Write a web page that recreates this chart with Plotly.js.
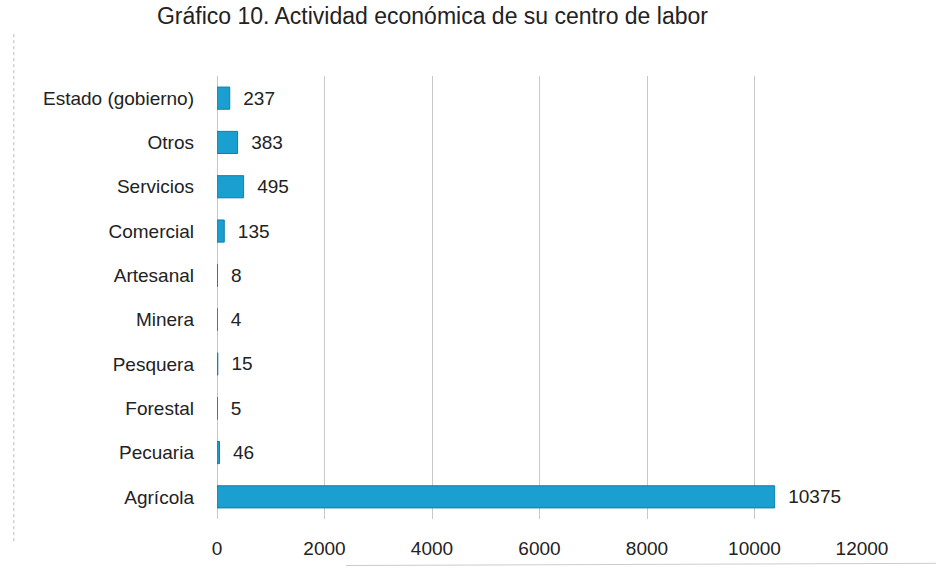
<!DOCTYPE html>
<html>
<head>
<meta charset="utf-8">
<script src="https://cdn.plot.ly/plotly-3.0.1.min.js"></script>
<style>html,body{margin:0;padding:0;background:#fff;}#chart{width:936px;height:571px;}</style>
</head>
<body>
<div id="chart"></div>
<script>
const categories = ["Agrícola","Pecuaria","Forestal","Pesquera","Minera","Artesanal","Comercial","Servicios","Otros","Estado (gobierno)"];
const values = [10375,46,5,15,4,8,135,495,383,237];
const tickValues = [0,2000,4000,6000,8000,10000,12000];
const tickLabels = ["0","2000","4000","6000","8000","10000","12000"];
const titleText = "Gráfico 10. Actividad económica de su centro de labor";

const narrow = "Liberation Sans Narrow, Arial Narrow, Liberation Sans, Arial, sans-serif";

const trace = {
  type: "bar",
  orientation: "h",
  y: categories,
  x: values,
  width: 0.5,
  marker: {color: "#1b9fd0", line: {color: "#0f7fa8", width: 1}},
  text: values.map(v => "  " + v),
  textposition: "outside",
  cliponaxis: false,
  textfont: {family: narrow, size: 19, color: "#222"},
  hoverinfo: "x+y"
};

const layout = {
  width: 936, height: 571,
  margin: {l: 217, r: 74, t: 76, b: 52},
  paper_bgcolor: "#fff", plot_bgcolor: "#fff",
  title: {text: titleText, font: {family: "Liberation Sans, Arial, sans-serif", size: 23, color: "#222"},
          x: 0.462, xanchor: "center", y: 0.972, yanchor: "middle"},
  xaxis: {range: [0, 12000], tickvals: tickValues, ticktext: tickLabels,
          showgrid: true, gridcolor: "#c8c8c8", gridwidth: 1, zeroline: true, zerolinecolor: "#c8c8c8",
          showline: false, ticks: "", ticklabelstandoff: 16,
          tickfont: {family: narrow, size: 19, color: "#222"}},
  yaxis: {type: "category", categoryorder: "array", categoryarray: categories,
          showgrid: false, showline: false, ticks: "", ticklabelstandoff: 22,
          tickfont: {family: narrow, size: 19, color: "#222"}},
  showlegend: false,
  shapes: [
    {type: "line", xref: "paper", yref: "paper", x0: -0.315, x1: -0.315, y0: -0.05, y1: 1.1,
     line: {color: "#bbbbbb", width: 1, dash: "dot"}},
    {type: "line", xref: "paper", yref: "paper", x0: 0.2, x1: 1.12, y0: -0.105, y1: -0.1,
     line: {color: "#cccccc", width: 1}}
  ]
};

Plotly.newPlot("chart", [trace], layout, {displayModeBar: false, staticPlot: true});
</script>
</body>
</html>
